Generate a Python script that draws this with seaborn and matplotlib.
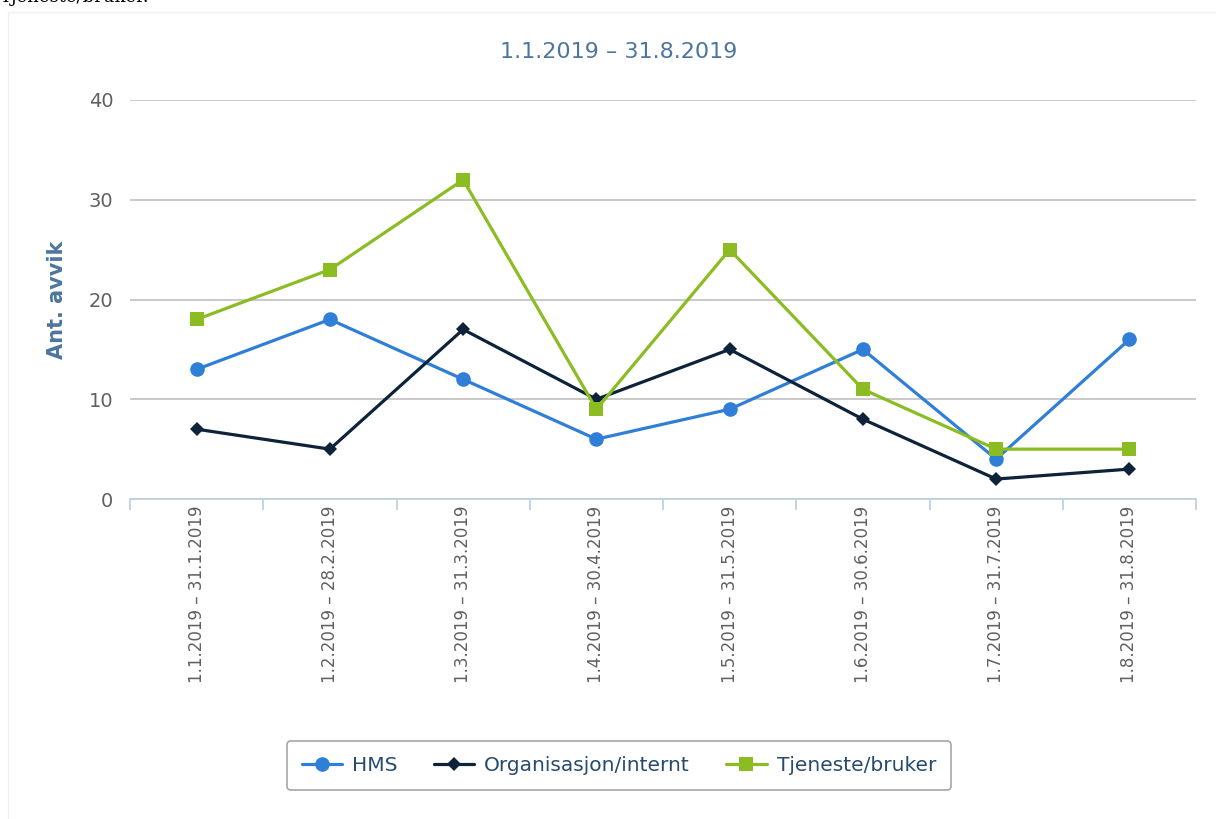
import numpy as np
import pandas as pd
import matplotlib.pyplot as plt
from matplotlib.patches import Rectangle
from matplotlib.lines import Line2D
import seaborn as sns

# chart data
periods = ["1.1.2019 – 31.1.2019", "1.2.2019 – 28.2.2019", "1.3.2019 – 31.3.2019",
           "1.4.2019 – 30.4.2019", "1.5.2019 – 31.5.2019", "1.6.2019 – 30.6.2019",
           "1.7.2019 – 31.7.2019", "1.8.2019 – 31.8.2019"]
hms = [13, 18, 12, 6, 9, 15, 4, 16]
organisasjon = [7, 5, 17, 10, 15, 8, 2, 3]
tjeneste = [18, 23, 32, 9, 25, 11, 5, 5]
series_names = ["HMS", "Organisasjon/internt", "Tjeneste/bruker"]
colors = ["#2f7ed8", "#0d233a", "#8bbc21"]
markers = ["o", "D", "s"]
msizes = [10.5, 7.5, 10.5]

df = pd.DataFrame({
    "idx": list(range(len(periods))) * 3,
    "value": hms + organisasjon + tjeneste,
    "series": np.repeat(series_names, len(periods)),
})

sns.set_style("white")
plt.rcParams["font.family"] = ["DejaVu Sans"]

fig = plt.figure(figsize=(12.16, 8.19), dpi=100)
ax = fig.add_axes([0.1069, 0.3907, 0.8767, 0.4872])

sns.lineplot(data=df, x="idx", y="value", hue="series", style="series",
             palette=colors, markers=markers, dashes=False, linewidth=2.3,
             markeredgewidth=0, legend=False, ax=ax)
for line, ms in zip(ax.lines, msizes):
    line.set_markersize(ms)
    line.set_clip_on(False)

ax.set_xlim(-0.5, 7.5)
ax.set_ylim(0, 40)
ax.set_yticks([0, 10, 20, 30, 40])
ax.yaxis.grid(True, color="#c0c0c0", linewidth=1.2)
ax.set_axisbelow(True)
ax.set_xticks(range(len(periods)))
ax.set_xticklabels(periods, rotation=90, fontsize=12, color="#606060")
ax.set_xticks(np.arange(-0.5, 8, 1), minor=True)
ax.tick_params(axis="x", which="major", bottom=False, length=0, pad=5)
ax.tick_params(axis="x", which="minor", bottom=True, length=8, width=1.3,
               color="#c0d0e0")
ax.tick_params(axis="y", length=0, pad=12, labelsize=14, labelcolor="#606060")
ax.set_xlabel("")
ax.set_ylabel("")
for side in ["left", "top", "right"]:
    ax.spines[side].set_visible(False)
ax.spines["bottom"].set_color("#c0d0e0")
ax.spines["bottom"].set_linewidth(1.3)

fig.text(0.509, 0.9365, "1.1.2019 – 31.8.2019", ha="center", va="center",
         fontsize=16, color="#4d759e")
fig.text(0.047, 0.634, "Ant. avvik", rotation=90, ha="center", va="center",
         fontsize=15, fontweight="bold", color="#4d759e")

# chart container border
fig.patches.append(Rectangle((8 / 1216, -0.01), 1.02, 1 - 12 / 819 + 0.01,
                             transform=fig.transFigure, fill=False,
                             edgecolor="#eef0f4", linewidth=1))
# clipped text from the surrounding page
fig.text(0.0, 1 - 2 / 819, "Tjeneste/bruker.", family="DejaVu Serif",
         fontsize=13, va="baseline", ha="left", color="black")

handles = [Line2D([0], [0], color=c, marker=m, markersize=s, linewidth=2.3,
                  markeredgewidth=0) for c, m, s in zip(colors, markers, msizes)]
leg = fig.legend(handles, series_names, loc="center", bbox_to_anchor=(0.509, 0.065),
                 ncol=3, frameon=True, fancybox=True, edgecolor="#909090",
                 fontsize=14.5, handlelength=2.0, columnspacing=1.8,
                 handletextpad=0.5, borderpad=0.75, borderaxespad=0)
for t in leg.get_texts():
    t.set_color("#274b6d")
leg.get_frame().set_linewidth(1.2)

fig.savefig("out.png", dpi=100)
